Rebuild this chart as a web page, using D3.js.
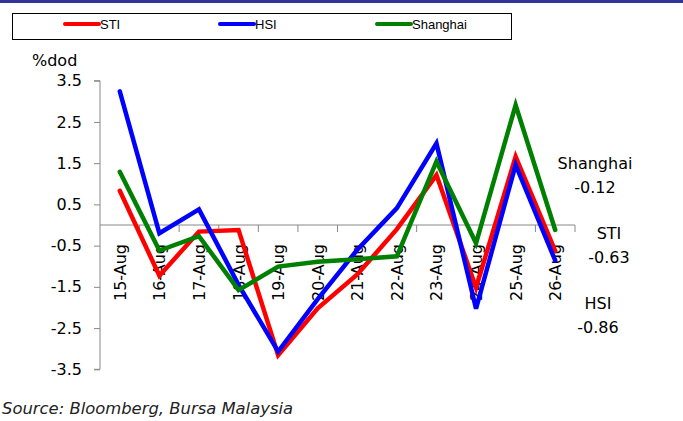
<!DOCTYPE html>
<html>
<head>
<meta charset="utf-8">
<script src="https://cdn.jsdelivr.net/npm/d3@7"></script>
<style>
  body { margin: 0; background: #fff; }
  svg { display: block; }
</style>
</head>
<body>
<div id="chart"></div>
<script>
var dates = ['15-Aug', '16-Aug', '17-Aug', '18-Aug', '19-Aug', '20-Aug',
             '21-Aug', '22-Aug', '23-Aug', '24-Aug', '25-Aug', '26-Aug'];
var sti = [0.83, -1.23, -0.16, -0.12, -3.16, -2.02, -1.2, -0.1, 1.21, -1.52, 1.66, -0.63];
var hsi = [3.24, -0.2, 0.38, -1.45, -3.07, -1.8, -0.6, 0.41, 1.98, -2.03, 1.46, -0.86];
var shanghai = [1.29, -0.62, -0.27, -1.58, -1.01, -0.89, -0.83, -0.76, 1.54, -0.44, 2.91, -0.12];
var yTicks = [3.5, 2.5, 1.5, 0.5, -0.5, -1.5, -2.5, -3.5];

var series = [
  {name: 'STI', values: sti, color: '#ff0000'},
  {name: 'HSI', values: hsi, color: '#0000ff'},
  {name: 'Shanghai', values: shanghai, color: '#008000'}
];

var width = 683, height = 421;
var margin = {left: 100, right: 108, top: 80.7, bottom: 51.7};

// plain hyphen instead of unicode minus, like the original
function fmt(spec) {
  var f = d3.format(spec);
  return function(v) { return f(v).replace('\u2212', '-'); };
}

var svg = d3.select('#chart').append('svg')
  .attr('width', width)
  .attr('height', height)
  .style('font-family', 'DejaVu Sans, sans-serif');

// dark band along the top
svg.append('rect')
  .attr('x', 0).attr('y', 0)
  .attr('width', width).attr('height', 3)
  .attr('fill', '#333399');

// legend box
var legend = svg.append('g');
legend.append('rect')
  .attr('x', 12.5).attr('y', 13.5)
  .attr('width', 499).attr('height', 26)
  .attr('fill', '#fff')
  .attr('stroke', '#000')
  .attr('stroke-width', 1);

var legendX = [65, 220, 377];
series.forEach(function(s, i) {
  legend.append('line')
    .attr('x1', legendX[i]).attr('x2', legendX[i] + 34)
    .attr('y1', 24).attr('y2', 24)
    .attr('stroke', s.color)
    .attr('stroke-width', 4)
    .attr('stroke-linecap', 'round');
  legend.append('text')
    .attr('x', legendX[i] + 35)
    .attr('y', 29)
    .style('font-family', 'Liberation Sans Narrow, Arial Narrow, sans-serif')
    .style('font-size', '13px')
    .text(s.name);
});

var x = d3.scaleBand()
  .domain(dates)
  .range([margin.left, width - margin.right]);

var y = d3.scaleLinear()
  .domain([-3.5, 3.5])
  .range([height - margin.bottom, margin.top]);

// y axis
var yAxis = svg.append('g')
  .attr('transform', 'translate(' + margin.left + ',0)')
  .call(d3.axisLeft(y).tickValues(yTicks).tickSize(6).tickPadding(12)
    .tickFormat(fmt('.1f')));
yAxis.selectAll('path, line').attr('stroke', '#888');
yAxis.select('.domain').attr('d', 'M-6,' + y(3.5) + 'H0V' + y(-3.5) + 'H-6');
yAxis.selectAll('text')
  .attr('fill', '#000')
  .style('font-size', '16px')
  .style('font-family', 'DejaVu Sans, sans-serif');

svg.append('text')
  .attr('x', 32)
  .attr('y', 66)
  .style('font-size', '16px')
  .text('%dod');

// category axis on the zero line
var xAxis = svg.append('g')
  .attr('transform', 'translate(0,' + y(0) + ')');
xAxis.append('line')
  .attr('x1', margin.left).attr('x2', width - margin.right)
  .attr('stroke', '#888');
xAxis.selectAll('.tick')
  .data(dates)
  .enter()
  .append('line')
  .attr('x1', function(d) { return x(d) + x.bandwidth(); })
  .attr('x2', function(d) { return x(d) + x.bandwidth(); })
  .attr('y1', 0).attr('y2', 7)
  .attr('stroke', '#888');
xAxis.selectAll('.lbl')
  .data(dates)
  .enter()
  .append('text')
  .attr('transform', function(d) {
    return 'translate(' + (x(d) + x.bandwidth() / 2 + 6) + ',19) rotate(-90)';
  })
  .attr('text-anchor', 'end')
  .style('font-size', '16px')
  .text(function(d) { return d; });

// lines
var line = d3.line()
  .x(function(d, i) { return x(dates[i]) + x.bandwidth() / 2; })
  .y(function(d) { return y(d); });

series.forEach(function(s) {
  svg.append('path')
    .datum(s.values)
    .attr('d', line)
    .attr('fill', 'none')
    .attr('stroke', s.color)
    .attr('stroke-width', 4.5)
    .attr('stroke-linejoin', 'miter')
    .attr('stroke-linecap', 'round');
});

// end labels
var endLabels = [
  {name: 'Shanghai', value: shanghai[11], x: 595, y: 169},
  {name: 'STI', value: sti[11], x: 609, y: 239},
  {name: 'HSI', value: hsi[11], x: 598, y: 309}
];
endLabels.forEach(function(l) {
  svg.append('text')
    .attr('x', l.x).attr('y', l.y)
    .attr('text-anchor', 'middle')
    .style('font-size', '16px')
    .text(l.name);
  svg.append('text')
    .attr('x', l.x).attr('y', l.y + 24)
    .attr('text-anchor', 'middle')
    .style('font-size', '16px')
    .text(fmt('.2f')(l.value));
});

svg.append('text')
  .attr('x', 2)
  .attr('y', 414)
  .style('font-size', '16.4px')
  .style('font-style', 'italic')
  .style('fill', '#222')
  .text('Source: Bloomberg, Bursa Malaysia');
</script>
</body>
</html>
